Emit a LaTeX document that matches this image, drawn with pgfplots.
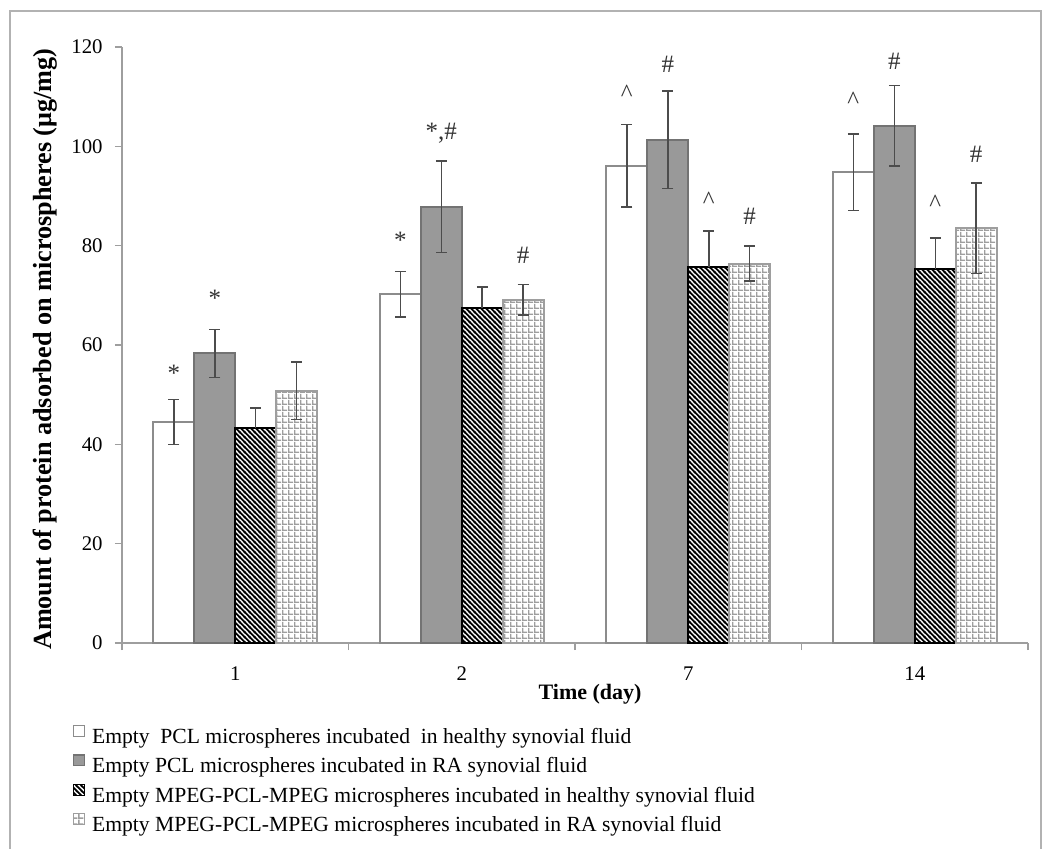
\documentclass[border=0pt]{standalone}
\usepackage{fontspec}
\setmainfont{Liberation Serif}
\usepackage{pgfplots}
\usepackage{pgfplotstable}
\pgfplotsset{compat=1.18}
\usetikzlibrary{patterns}

% dense diagonal stripes (top-left to bottom-right)
\pgfdeclarepatternformonly{densehatch}{\pgfqpoint{0pt}{0pt}}{\pgfqpoint{2.4pt}{2.4pt}}{\pgfqpoint{2.4pt}{2.4pt}}{%
  \pgfsetlinewidth{0.85pt}%
  \pgfpathmoveto{\pgfqpoint{-0.5pt}{0.5pt}}\pgfpathlineto{\pgfqpoint{0.5pt}{-0.5pt}}%
  \pgfpathmoveto{\pgfqpoint{-0.5pt}{2.9pt}}\pgfpathlineto{\pgfqpoint{2.9pt}{-0.5pt}}%
  \pgfpathmoveto{\pgfqpoint{1.9pt}{2.9pt}}\pgfpathlineto{\pgfqpoint{2.9pt}{1.9pt}}%
  \pgfusepath{stroke}}
% small square grid
\pgfdeclarepatternformonly{finegrid}{\pgfqpoint{0pt}{0pt}}{\pgfqpoint{3pt}{3pt}}{\pgfqpoint{3pt}{3pt}}{%
  \pgfpathrectangle{\pgfqpoint{0pt}{0pt}}{\pgfqpoint{0.85pt}{3pt}}%
  \pgfpathrectangle{\pgfqpoint{0pt}{0pt}}{\pgfqpoint{3pt}{0.85pt}}%
  \pgfusepath{fill}}

\definecolor{axgray}{gray}{0.62}
\definecolor{framegray}{gray}{0.70}
\definecolor{barfill}{gray}{0.60}
\definecolor{baredge}{gray}{0.45}
\definecolor{whiteedge}{gray}{0.55}
\definecolor{gridline}{gray}{0.62}
\definecolor{errgray}{gray}{0.30}

% day index, mean, standard deviation
\pgfplotstableread{
x y e
0 44.5 4.5
1 70.2 4.6
2 96.1 8.3
3 94.8 7.7
}\pclHealthy
\pgfplotstableread{
x y e
0 58.3 4.8
1 87.8 9.2
2 101.3 9.8
3 104.1 8.1
}\pclRA
\pgfplotstableread{
x y e
0 43.3 4.0
1 67.4 4.3
2 75.8 7.2
3 75.4 6.1
}\mpegHealthy
\pgfplotstableread{
x y e
0 50.8 5.8
1 69.1 3.1
2 76.4 3.5
3 83.5 9.1
}\mpegRA

\begin{document}
\begin{tikzpicture}
\useasboundingbox (0,0) rectangle (522pt,424pt);
\draw[framegray, line width=0.8pt] (5pt,-1pt) -- (5pt,418.5pt) -- (520.5pt,418.5pt) -- (520.5pt,-1pt);
\begin{axis}[
  at={(61pt,102.5pt)}, anchor=south west,
  scale only axis, width=453pt, height=298pt,
  xmin=-0.5, xmax=3.5, ymin=0, ymax=120,
  ybar, bar width=0.181,
  axis x line*=bottom, axis y line*=left,
  axis line style={draw=axgray, line width=0.7pt},
  tick align=outside,
  tick style={draw=axgray, line width=0.7pt},
  major tick length=3.5pt, minor tick length=3.5pt,
  xtick={0,1,2,3}, xticklabels={1,2,7,14},
  minor xtick={-0.5,0.5,1.5,2.5,3.5},
  major x tick style={draw=none},
  ytick={0,20,...,120},
  /pgf/number format/assume math mode=true,
  tick label style={font=\fontsize{10.4}{12}\selectfont},
  xticklabel style={anchor=base, inner sep=0pt, yshift=-15pt},
  yticklabel style={anchor=east, inner sep=0pt, xshift=-6pt},
  ylabel={\textbf{Amount of protein adsorbed on microspheres (μg/mg)}},
  ylabel style={at={(axis description cs:-0.085,0.493)}, anchor=center, font=\fontsize{13.1}{15}\selectfont},
  xlabel={\textbf{Time (day)}},
  xlabel style={at={(axis description cs:0.5166,-0.0956)}, anchor=base, font=\fontsize{11}{13}\selectfont},
  legend style={at={(axis description cs:-0.054,-0.1376)}, anchor=north west,
    draw=none, fill=none, inner sep=0pt, outer sep=0pt,
    font=\fontsize{10.8}{13}\selectfont,
    nodes={inner sep=0pt, text height=7.6pt, text depth=2.4pt},
    row sep=3.1pt,
    /tikz/every odd column/.append style={column sep=3.5pt}},
  legend cell align=left,
  legend image code/.code={\draw[#1, line width=0.6pt] (0pt,0.9pt) rectangle (5.4pt,6.3pt);},
  error bars/error bar style={draw=errgray, line width=0.75pt},
  error bars/error mark options={draw=errgray, rotate=90, mark size=2.75pt, line width=0.75pt},
]
\addplot[fill=white, draw=whiteedge, line width=1pt, bar shift=-0.2715,
  error bars/.cd, y dir=both, y explicit]
  table[x=x, y=y, y error=e]{\pclHealthy};
\addlegendentry{Empty\ \ PCL microspheres incubated\ \ in healthy synovial fluid}
\addplot[fill=barfill, draw=baredge, line width=1pt, bar shift=-0.0905,
  error bars/.cd, y dir=both, y explicit]
  table[x=x, y=y, y error=e]{\pclRA};
\addlegendentry{Empty PCL microspheres incubated in RA synovial fluid}
\addplot[pattern=densehatch, pattern color=black, draw=black, line width=1pt, bar shift=0.0905,
  error bars/.cd, y dir=plus, y explicit]
  table[x=x, y=y, y error=e]{\mpegHealthy};
\addlegendentry{Empty MPEG-PCL-MPEG microspheres incubated in healthy synovial fluid}
\addplot[pattern=finegrid, pattern color=gridline, draw=axgray, line width=1pt, bar shift=0.2715,
  error bars/.cd, y dir=both, y explicit]
  table[x=x, y=y, y error=e]{\mpegRA};
\addlegendentry{Empty MPEG-PCL-MPEG microspheres incubated in RA synovial fluid}

% significance marks above the bars
\begin{scope}[every node/.style={anchor=base, font=\fontsize{12.5}{14}\selectfont, text=black!80, inner sep=0pt}]
\node at (axis cs:-0.2715,52.7) {*};
\node at (axis cs:-0.0905,67.8) {*};
\node at (axis cs:0.7285,79.5) {*};
\node at (axis cs:0.9095,101.4) {*,\#};
\node at (axis cs:1.2715,76.5) {\#};
\node at (axis cs:1.7285,109.0) {\textasciicircum};
\node at (axis cs:1.9095,114.8) {\#};
\node at (axis cs:2.0905,87.5) {\textasciicircum};
\node at (axis cs:2.2715,84.2) {\#};
\node at (axis cs:2.7285,107.6) {\textasciicircum};
\node at (axis cs:2.9095,115.4) {\#};
\node at (axis cs:3.0905,86.8) {\textasciicircum};
\node at (axis cs:3.2715,96.7) {\#};
\end{scope}
\end{axis}
\end{tikzpicture}
\end{document}
